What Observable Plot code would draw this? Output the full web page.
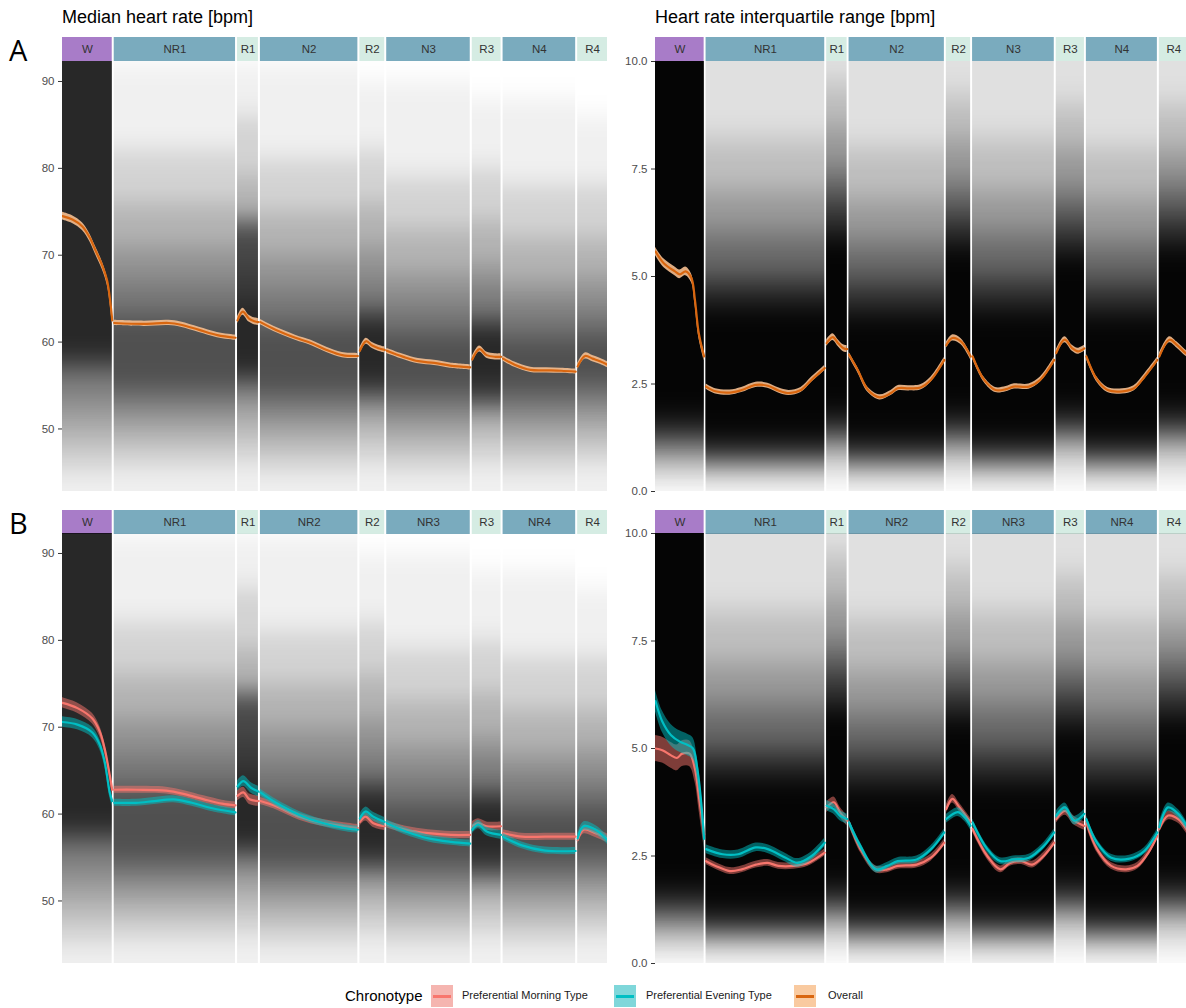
<!DOCTYPE html>
<html><head><meta charset="utf-8">
<script src="https://cdn.jsdelivr.net/npm/d3@7"></script>
<script src="https://cdn.jsdelivr.net/npm/@observablehq/plot@0.6"></script>
<style>
html,body{margin:0;padding:0;background:#fff;}
#fig{position:relative;width:1186px;height:1008px;overflow:hidden;background:#fff;font-family:"Liberation Sans",Arial,sans-serif;}
.t{position:absolute;white-space:nowrap;color:#000;}
.lg{position:absolute;white-space:nowrap;font-size:11px;color:#1a1a1a;}
.sw{position:absolute;width:22px;height:22px;}
.sw i{position:absolute;left:2px;right:2px;top:10px;height:2.5px;}
</style></head><body><div id="fig"></div>
<script>
// ---------- data ----------
const stageLabelsA = ["W","NR1","R1","N2","R2","N3","R3","N4","R4"];
const stageLabelsB = ["W","NR1","R1","NR2","R2","NR3","R3","NR4","R4"];
const stageKind = ["wake","nrem","rem","nrem","rem","nrem","rem","nrem","rem"];
const stageSpan = [50,122,21,98,25,84,29,73,30];

// [t within stage, value]
const overallMedian = [
  [[0,74.5],[0.2,74.1],[0.4,73.3],[0.55,72],[0.66,70.6],[0.8,68.8],[0.9,67],[0.97,64.2],[1,62.5]],
  [[0,62.2],[0.25,62.1],[0.45,62.2],[0.55,62.0],[0.7,61.4],[0.85,60.8],[1,60.5]],
  [[0,62.5],[0.25,63.5],[0.55,62.7],[0.8,62.4],[1,62.3]],
  [[0,62.3],[0.16,61.4],[0.36,60.5],[0.52,59.9],[0.68,59.1],[0.84,58.5],[1,58.4]],
  [[0,59.0],[0.25,60.1],[0.5,59.6],[0.75,59.3],[1,59.1]],
  [[0,59.0],[0.2,58.3],[0.38,57.8],[0.57,57.6],[0.76,57.3],[1,57.1]],
  [[0,58.0],[0.25,59.2],[0.5,58.5],[0.8,58.3],[1,58.3]],
  [[0,58.1],[0.16,57.4],[0.38,56.8],[0.6,56.75],[0.8,56.7],[1,56.6]],
  [[0,57.2],[0.25,58.4],[0.5,58.1],[0.75,57.8],[1,57.4]]
];
const overallIqr = [
  [[0,5.58],[0.17,5.31],[0.4,5.12],[0.5,5.05],[0.62,5.12],[0.74,4.96],[0.81,4.46],[0.89,3.68],[1,3.14]],
  [[0,2.44],[0.08,2.33],[0.2,2.30],[0.3,2.36],[0.42,2.48],[0.52,2.46],[0.61,2.35],[0.7,2.29],[0.8,2.36],[0.89,2.6],[1,2.87]],
  [[0,3.45],[0.3,3.59],[0.56,3.45],[0.82,3.33],[1,3.31]],
  [[0,3.18],[0.09,2.83],[0.2,2.36],[0.32,2.19],[0.44,2.29],[0.51,2.40],[0.63,2.40],[0.75,2.42],[0.86,2.6],[1,3.06]],
  [[0,3.4],[0.25,3.57],[0.6,3.49],[1,3.14]],
  [[0,3.14],[0.14,2.6],[0.28,2.36],[0.41,2.38],[0.5,2.44],[0.69,2.44],[0.83,2.6],[1,3.06]],
  [[0,3.22],[0.3,3.53],[0.57,3.33],[0.77,3.26],[1,3.33]],
  [[0,3.14],[0.15,2.6],[0.3,2.36],[0.51,2.33],[0.67,2.40],[0.82,2.67],[1,3.06]],
  [[0,3.14],[0.35,3.53],[0.6,3.41],[0.9,3.22],[1,3.18]]
];
const morningMedian = [
  [[0,72.8],[0.3,72.2],[0.6,71.0],[0.75,69.5],[0.85,67.5],[0.95,64.5],[1,62.8]],
  [[0,62.8],[0.18,62.8],[0.43,62.7],[0.58,62.3],[0.74,61.7],[0.89,61.2],[1,61.0]],
  [[0,62.1],[0.28,62.5],[0.57,61.7],[1,61.5]],
  [[0,61.5],[0.16,60.9],[0.4,59.7],[0.63,59.0],[0.86,58.6],[1,58.4]],
  [[0,59.1],[0.23,59.7],[0.54,58.95],[1,58.6]],
  [[0,58.8],[0.23,58.2],[0.5,57.8],[0.77,57.6],[1,57.6]],
  [[0,58.6],[0.21,58.95],[0.5,58.6],[1,58.6]],
  [[0,57.8],[0.26,57.4],[0.58,57.4],[1,57.4]],
  [[0,57.0],[0.2,58.2],[0.6,57.8],[1,57.2]]
];
const eveningMedian = [
  [[0,70.6],[0.3,70.3],[0.6,69.4],[0.75,68],[0.85,66],[0.95,62.5],[1,61.5]],
  [[0,61.3],[0.18,61.3],[0.33,61.5],[0.49,61.7],[0.64,61.3],[0.8,60.7],[1,60.2]],
  [[0,63.2],[0.28,63.8],[0.66,63.0],[1,62.6]],
  [[0,62.5],[0.16,61.3],[0.4,59.9],[0.63,59.0],[0.86,58.4],[1,58.2]],
  [[0,59.5],[0.23,60.3],[0.54,59.7],[1,59.1]],
  [[0,58.95],[0.23,58.0],[0.5,57.2],[0.77,56.8],[1,56.6]],
  [[0,58.2],[0.21,58.8],[0.5,58.0],[1,57.6]],
  [[0,57.4],[0.26,56.4],[0.58,55.8],[1,55.75]],
  [[0,57.2],[0.2,58.6],[0.6,58.2],[1,57.0]]
];
const morningIqr = [
  [[0,5.0],[0.14,4.96],[0.32,4.84],[0.44,4.78],[0.55,4.88],[0.7,4.88],[0.81,4.53],[0.89,3.9],[1,3.0]],
  [[0,2.38],[0.08,2.27],[0.2,2.15],[0.3,2.19],[0.42,2.3],[0.52,2.34],[0.61,2.27],[0.74,2.27],[0.86,2.34],[1,2.58]],
  [[0,3.63],[0.35,3.75],[0.65,3.52],[1,3.32]],
  [[0,3.28],[0.12,2.66],[0.28,2.19],[0.4,2.19],[0.51,2.27],[0.71,2.3],[0.86,2.46],[1,2.81]],
  [[0,3.59],[0.25,3.83],[0.54,3.63],[1,3.28]],
  [[0,3.13],[0.18,2.5],[0.34,2.19],[0.46,2.34],[0.6,2.38],[0.73,2.3],[0.87,2.5],[1,2.81]],
  [[0,3.36],[0.31,3.55],[0.64,3.32],[1,3.2]],
  [[0,3.28],[0.15,2.66],[0.35,2.27],[0.56,2.19],[0.72,2.27],[0.875,2.58],[1,2.97]],
  [[0,3.13],[0.3,3.44],[0.65,3.36],[1,3.05]]
];
const eveningIqr = [
  [[0,6.1],[0.14,5.63],[0.32,5.31],[0.5,5.16],[0.66,5.08],[0.77,5.0],[0.86,4.53],[0.94,3.75],[1,2.9]],
  [[0,2.66],[0.14,2.54],[0.27,2.54],[0.42,2.7],[0.52,2.66],[0.67,2.46],[0.77,2.34],[0.89,2.5],[1,2.81]],
  [[0,3.67],[0.35,3.59],[0.65,3.44],[1,3.36]],
  [[0,3.28],[0.12,2.73],[0.28,2.19],[0.4,2.27],[0.51,2.38],[0.71,2.42],[0.86,2.66],[1,3.05]],
  [[0,3.36],[0.47,3.52],[0.76,3.4],[1,3.2]],
  [[0,3.28],[0.18,2.66],[0.34,2.38],[0.5,2.42],[0.69,2.46],[0.87,2.73],[1,3.05]],
  [[0,3.44],[0.31,3.63],[0.64,3.32],[1,3.48]],
  [[0,3.36],[0.15,2.81],[0.35,2.46],[0.61,2.44],[0.82,2.62],[1,3.05]],
  [[0,3.17],[0.3,3.63],[0.65,3.48],[1,3.13]]
];
// confidence half-widths per stage
const overallMedianCI = [0.45,0.3,0.4,0.3,0.35,0.3,0.35,0.3,0.35];
const overallIqrCI    = [0.1,0.06,0.08,0.06,0.07,0.06,0.07,0.06,0.07];
const morningMedianCI = [0.6,0.4,0.6,0.4,0.5,0.4,0.5,0.4,0.5];
const eveningMedianCI = [0.6,0.4,0.6,0.4,0.5,0.4,0.5,0.4,0.5];
const morningIqrCI    = [0.3,0.08,0.12,0.08,0.1,0.08,0.1,0.08,0.1];
const eveningIqrCI    = [0.25,0.1,0.12,0.08,0.1,0.08,0.1,0.08,0.1];

// spread of individual traces per stage: nested [low, high] envelopes, outer -> inner (null = none)
const medianSpread = [
  [[38,97],[45,97],[48,97],[51,97],[54,97],[57,97],[58,97]],
  [[38,92],[45.5,82],[48,76],[50.5,71],[52.5,67],[54.5,63],null],
  [[38,92],[46,86],[49,79],[52,73],[54,69],[56,65],[56,74]],
  [[38,92],[45,81],[47.5,75],[50,70],[52,66],[54,62],null],
  [[38,90],[46,82],[49,76],[51.5,71],[53.5,67],[55.5,63],[54,63]],
  [[38,90],[45,79],[47.5,73],[50,68],[52,64.5],[54,61],null],
  [[38,88],[46,80],[49,74],[51.5,69],[53.5,66],[55,62],[53,62]],
  [[38,88],[45,78],[47.5,72],[50,67],[52,64],[54,60.5],null],
  [[38,86],[46,78],[48.5,72],[51,67.5],[53,64],[55,61],null]
];
const iqrSpread = [
  [[0.2,11.5],[0.5,11.5],[0.8,11.5],[1.0,11.5],[1.3,11.5],[1.6,11.5]],
  [[0.1,11.5],[0.4,8.2],[0.6,7.0],[0.75,6.0],[0.9,5.0],[1.1,4.4]],
  [[0.3,11.5],[0.7,9.5],[1.0,8.5],[1.2,7.5],[1.4,6.8],[1.7,6.0]],
  [[0.1,11.5],[0.4,8.0],[0.6,6.8],[0.75,5.8],[0.9,4.9],[1.1,4.2]],
  [[0.3,11.5],[0.7,9.2],[1.0,8.2],[1.2,7.2],[1.4,6.5],[1.7,5.8]],
  [[0.1,11.5],[0.4,8.2],[0.6,7.0],[0.75,6.0],[0.9,5.0],[1.1,4.3]],
  [[0.3,11.5],[0.8,9.0],[1.1,8.0],[1.3,7.0],[1.5,6.3],[1.8,5.6]],
  [[0.1,11.5],[0.4,8.0],[0.6,6.8],[0.75,5.8],[0.9,4.9],[1.1,4.2]],
  [[0.3,11.5],[0.8,9.0],[1.1,8.0],[1.3,7.2],[1.5,6.5],[1.8,5.8]]
];
const medianTicks = [50,60,70,80,90];
const iqrTicks = [0,2.5,5,7.5,10];
const legendLabels = ["Preferential Morning Type","Preferential Evening Type","Overall"];

// ---------- geometry helpers ----------
const GAP = 2;
const starts = [];
{ let acc = 0; stageSpan.forEach(s => { starts.push(acc); acc += s + GAP; }); }
const total = starts[starts.length-1] + stageSpan[stageSpan.length-1];
const kindColor = {wake:"#a87cc8", nrem:"#7aabbe", rem:"#d5ece3"};

const fig = document.getElementById("fig");
function place(el, left, top){ el.style.position="absolute"; el.style.left=left+"px"; el.style.top=top+"px"; fig.appendChild(el); return el; }
function text(cls, s, left, top, css){ const d=document.createElement("div"); d.className=cls; d.textContent=s; Object.assign(d.style, css||{}); return place(d,left,top); }

function rowsOf(series, ci){
  return series.flatMap((pts,i)=>pts.map(([t,v])=>({stage:i, x: starts[i]+t*stageSpan[i], y:v, lo:v-ci[i], hi:v+ci[i]})));
}

function strip(labels, marginLeft, plotW, left, top){
  const rows = labels.map((l,i)=>({label:l, x1:starts[i], x2:starts[i]+stageSpan[i], mid:starts[i]+stageSpan[i]/2, c:kindColor[stageKind[i]]}));
  const svg = Plot.plot({
    width: marginLeft+plotW+4, height: 24, marginLeft, marginRight: 4, marginTop: 0, marginBottom: 0,
    style:{fontFamily:"Liberation Sans, Arial, sans-serif", fontSize:"11px", background:"transparent", overflow:"visible"},
    x:{domain:[0,total], axis:null}, y:{domain:[0,1], axis:null},
    color:{type:"identity"},
    marks:[
      Plot.rect(rows,{x1:"x1",x2:"x2",y1:0,y2:1,fill:"c"}),
      Plot.text(rows,{x:"mid",y:0.5,text:"label",fill:"#333",fontSize:11.5})
    ]
  });
  place(svg,left,top);
}

let filterId = 0;
function panel(opts){
  const {marginLeft, plotW, left, top, yDomain, ticks, fmt, spread, opac, layers, blur} = opts;
  const bandMarks = spread[0].map((_,k)=>Plot.rect(
    spread.map((lv,i)=>lv[k] ? ({x1:starts[i], x2:starts[i]+stageSpan[i], y1:lv[k][0], y2:lv[k][1]}) : null).filter(Boolean),
    {x1:"x1",x2:"x2",y1:"y1",y2:"y2",fill:"#000",fillOpacity:opac[k],clip:true}));
  const seriesMarks = layers.flatMap(L=>{
    const rows = rowsOf(L.data, L.ci);
    return [
      Plot.areaY(rows,{x:"x",y1:"lo",y2:"hi",z:"stage",fill:L.ribbon,fillOpacity:L.ribbonOpacity,curve:"catmull-rom",clip:true}),
      Plot.line(rows,{x:"x",y:"y",z:"stage",stroke:L.color,strokeWidth:2.2,curve:"catmull-rom",clip:true})
    ];
  });
  const svg = Plot.plot({
    width: marginLeft+plotW+4, height: 430+16, marginLeft, marginRight:4, marginTop:8, marginBottom:8,
    style:{fontFamily:"Liberation Sans, Arial, sans-serif", fontSize:"11px", background:"transparent", color:"#4d4d4d"},
    x:{domain:[0,total], axis:null},
    y:{domain:yDomain, axis:null},
    marks:[
      ...bandMarks,
      ...seriesMarks,
      Plot.axisY(ticks,{tickSize:4, tickPadding:4, tickFormat:fmt, fill:"#4d4d4d", stroke:"#333", fontSize:11.5, label:null})
    ]
  });
  const id = "blur"+(filterId++);
  const s = d3.select(svg);
  s.append("defs").append("filter").attr("id",id).attr("filterUnits","userSpaceOnUse")
    .attr("x",0).attr("y",-100).attr("width",marginLeft+plotW+10).attr("height",700)
    .append("feGaussianBlur").attr("stdDeviation",`0 ${blur}`);
  s.selectAll('g[aria-label="rect"]').attr("filter",`url(#${id})`);
  place(svg,left,top-8);
}

// ---------- layout ----------
const L = {marginLeft:62, plotW:545, left:0};
const R = {marginLeft:55, plotW:533, left:600};
const medDomain = [42.8, 92.3];
const iqrDomain = [0, 10];
const orange = {color:"#d9660f", ribbon:"#f6bf90", ribbonOpacity:0.9};
const red = {color:"#f8766d", ribbon:"#f8766d", ribbonOpacity:0.5};
const cyan = {color:"#00bfc4", ribbon:"#00bfc4", ribbonOpacity:0.5};

text("t","Median heart rate [bpm]",62,7,{fontSize:"18px"});
text("t","Heart rate interquartile range [bpm]",655,7,{fontSize:"18px"});
text("t","A",9,30,{fontSize:"29px",fontFamily:"'Open Sans',sans-serif"});
text("t","B",9,503,{fontSize:"29px",fontFamily:"'Open Sans',sans-serif"});

strip(stageLabelsA, L.marginLeft, L.plotW, L.left, 37);
strip(stageLabelsA, R.marginLeft, R.plotW, R.left, 37);
strip(stageLabelsB, L.marginLeft, L.plotW, L.left, 510);
strip(stageLabelsB, R.marginLeft, R.plotW, R.left, 510);

const medOpac = [0.06,0.12,0.15,0.18,0.2,0.32,0.5];
const iqrOpac = [0.12,0.15,0.2,0.3,0.5,0.9];
const fmtMed = d3.format("d"), fmtIqr = d3.format(".1f");

panel({...L, top:61, yDomain:medDomain, ticks:medianTicks, fmt:fmtMed, spread:medianSpread, opac:medOpac, blur:12,
  layers:[{...orange, data:overallMedian, ci:overallMedianCI}]});
panel({...R, top:61, yDomain:iqrDomain, ticks:iqrTicks, fmt:fmtIqr, spread:iqrSpread, opac:iqrOpac, blur:14,
  layers:[{...orange, data:overallIqr, ci:overallIqrCI}]});
panel({...L, top:533, yDomain:medDomain, ticks:medianTicks, fmt:fmtMed, spread:medianSpread, opac:medOpac, blur:12,
  layers:[{...red, data:morningMedian, ci:morningMedianCI},{...cyan, data:eveningMedian, ci:eveningMedianCI}]});
panel({...R, top:533, yDomain:iqrDomain, ticks:iqrTicks, fmt:fmtIqr, spread:iqrSpread, opac:iqrOpac, blur:14,
  layers:[{...red, data:morningIqr, ci:morningIqrCI},{...cyan, data:eveningIqr, ci:eveningIqrCI}]});

// ---------- legend ----------
text("t","Chronotype",345,987,{fontSize:"15px",color:"#000"});
const swFill = ["#f5b5b0","#7fd7da","#f9caa0"];
const swLine = ["#f8766d","#00bfc4","#d9660f"];
const swX = [431,614,794], txX = [462,646,828];
legendLabels.forEach((lab,i)=>{
  const d = document.createElement("div"); d.className="sw"; d.style.background=swFill[i];
  const line = document.createElement("i"); line.style.background=swLine[i]; d.appendChild(line);
  place(d, swX[i], 985);
  text("lg", lab, txX[i], 989);
});
</script></body></html>
